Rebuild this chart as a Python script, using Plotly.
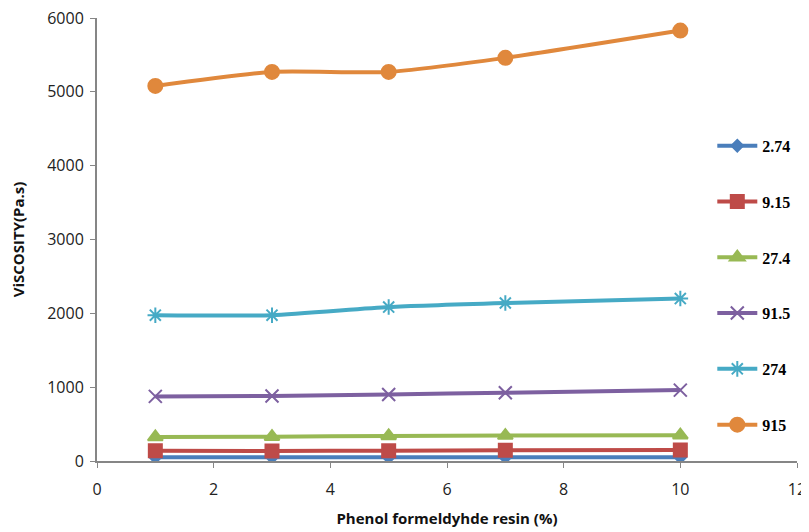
import plotly.graph_objects as go

resin_pct = [1, 3, 5, 7, 10]
series_names = ["2.74", "9.15", "27.4", "91.5", "274", "915"]
v_274e = [50, 50, 50, 50, 50]
v_915e = [140, 135, 140, 145, 150]
v_27_4 = [325, 330, 340, 345, 350]
v_91_5 = [875, 880, 900, 925, 960]
v_274 = [1975, 1975, 2085, 2140, 2200]
v_915 = [5080, 5270, 5270, 5460, 5830]
values = [v_274e, v_915e, v_27_4, v_91_5, v_274, v_915]

colors = ["#4A7EBB", "#BE4B48", "#98B954", "#7D60A0", "#46AAC5", "#E0883C"]
symbols = ["diamond", "square", "triangle-up", "x-thin-open", "asterisk-open", "circle"]
sizes = [9, 13, 13, 13, 13, 14]

fig = go.Figure()
for i, (name, vals) in enumerate(zip(series_names, values)):
    fig.add_trace(go.Scatter(
        x=resin_pct, y=vals, name=name, mode="lines+markers",
        legendgroup=name,
        line=dict(color=colors[i], width=4, shape="spline", smoothing=0.6),
        marker=dict(symbol=symbols[i], size=sizes[i], color=colors[i],
                    line=dict(color=colors[i], width=2)),
    ))

axis_common = dict(showline=True, linecolor="#868686", linewidth=2, ticks="outside",
                   ticklen=5, tickcolor="#868686", showgrid=False, zeroline=False,
                   ticklabeloverflow="allow",
                   tickfont=dict(family="Open Sans, DejaVu Sans", size=16, color="#222"))

fig.update_layout(
    width=809, height=532,
    margin=dict(l=89, r=20, t=10, b=79, autoexpand=False),
    plot_bgcolor="white", paper_bgcolor="white",
    xaxis=dict(range=[0, 12], dtick=2, ticklabelstandoff=8,
               title=dict(text="<b>Phenol formeldyhde resin (%)</b>", standoff=14,
                          font=dict(family="Open Sans, DejaVu Sans", size=15, color="#111")),
               **axis_common),
    yaxis=dict(range=[0, 6000], dtick=1000, automargin=False, ticklabelstandoff=3,
               title=dict(text="<b>ViSCOSITY(Pa.s)</b>", standoff=22,
                          font=dict(family="Open Sans, DejaVu Sans", size=15, color="#111")),
               **axis_common),
    legend=dict(x=0.879, xanchor="left", y=0.75, yanchor="top",
                font=dict(family="Liberation Serif", size=16, color="#000"),
                tracegroupgap=32, itemwidth=40, bgcolor="rgba(0,0,0,0)"),
    showlegend=True,
)
fig.update_layout(legend_font_weight="bold")

fig.write_html("out.html")
